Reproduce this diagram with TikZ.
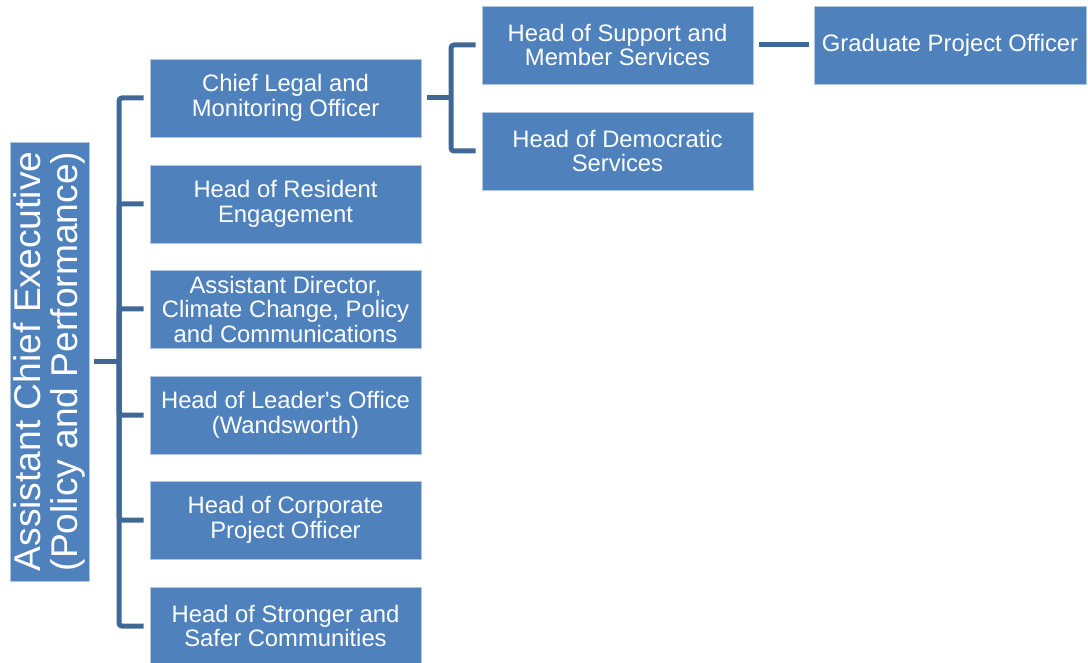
\documentclass[tikz,border=0pt]{standalone}
\usepackage{fontspec}
\setmainfont{Liberation Sans}[Ligatures=TeXOff]
\definecolor{boxblue}{RGB}{79,129,189}
\definecolor{linkblue}{RGB}{64,104,150}
\begin{document}
\begin{tikzpicture}[x=1pt,y=-1pt,
  orgbox/.style={rectangle, fill=boxblue, draw=white!55!boxblue, line width=0.8pt,
    minimum width=271pt, minimum height=78pt, inner sep=0pt, align=center,
    text=white, font=\fontsize{23.8}{24.5}\selectfont},
  rootbox/.style={rectangle, fill=boxblue, draw=white!55!boxblue, line width=0.8pt,
    minimum width=439pt, minimum height=79pt, inner sep=0pt, align=center,
    text=white, rotate=90, font=\fontsize{37.2}{37}\selectfont},
  conn/.style={draw=linkblue, line width=5pt}]
\useasboundingbox (0,0) rectangle (1088,663);
\node[rootbox] (root) at (49.5,361.5) {Assistant Chief Executive\\(Policy and Performance)};
\node[orgbox] (c1) at (285.5,98) {Chief Legal and\\Monitoring Officer};
\node[orgbox] (c2) at (285.5,204) {Head of Resident\\Engagement};
\node[orgbox] (c3) at (285.5,309) {Assistant Director,\\Climate Change, Policy\\and Communications};
\node[orgbox] (c4) at (285.5,415) {Head of Leader's Office\\(Wandsworth)};
\node[orgbox] (c5) at (285.5,520) {Head of Corporate\\Project Officer};
\node[orgbox] (c6) at (285.5,626) {Head of Stronger and\\Safer Communities};
\node[orgbox] (d1) at (617.5,45) {Head of Support and\\Member Services};
\node[orgbox] (d2) at (617.5,151) {Head of Democratic\\Services};
\node[orgbox, minimum width=272pt] (g1) at (950,45) {Graduate Project Officer};
\coordinate (j1) at (119,361.5);
\coordinate (j2) at (451,98);
\draw[conn, shorten <=5pt] (root.south) -- (j1);
\foreach \c in {c1,c2,c3,c4,c5,c6}{
  \draw[conn, rounded corners=3pt, shorten >=6pt] (j1) |- (\c.west);
}
\draw[conn, shorten <=6pt] (c1.east) -- (j2);
\foreach \c in {d1,d2}{
  \draw[conn, rounded corners=3pt, shorten >=6pt] (j2) |- (\c.west);
}
\draw[conn, shorten <=6pt, shorten >=5pt] (d1.east) -- (g1.west);
\end{tikzpicture}
\end{document}
